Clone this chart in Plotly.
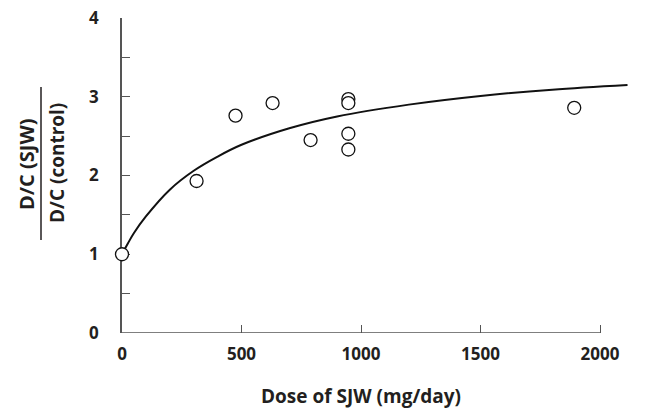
import plotly.graph_objects as go

# Observed data points (dose in mg/day as placed on the chart, D/C ratio)
dose_obs = [0, 312, 475, 630, 789, 947, 947, 947, 947, 1892]
ratio_obs = [1.00, 1.93, 2.76, 2.92, 2.45, 2.97, 2.92, 2.53, 2.33, 2.86]

# Fitted curve
dose_fit = [0, 25, 50, 100, 200, 300, 400, 500, 700, 900, 1200, 1500, 1800, 2115]
ratio_fit = [1.00, 1.14, 1.27, 1.48, 1.82, 2.06, 2.24, 2.39, 2.60, 2.75, 2.90, 3.01, 3.09, 3.15]

x_ticks = [0, 500, 1000, 1500, 2000]
x_ticklabels = ["0", "500", "1000", "1500", "2000"]
y_ticks = [0, 0.5, 1, 1.5, 2, 2.5, 3, 3.5, 4]
y_ticklabels = ["0", "", "1", "", "2", "", "3", "", "4"]

W, H = 650, 411
L, R, T, B = 122, 22, 18, 78
PW, PH = W - L - R, H - T - B

def px_x(p):
    return (p - L) / PW

def px_y(p):
    return (H - B - p) / PH

FONT = "Open Sans"
TXT = "#231f20"
AX = "#555555"

fig = go.Figure()
fig.add_trace(go.Scatter(
    x=dose_fit, y=ratio_fit, mode="lines", line=dict(color="#111111", width=2, shape="spline"),
    hoverinfo="skip", showlegend=False, cliponaxis=False))
fig.add_trace(go.Scatter(
    x=dose_obs, y=ratio_obs, mode="markers",
    marker=dict(symbol="circle", size=13, color="white", line=dict(color="#111111", width=1.3)),
    showlegend=False, cliponaxis=False))

fig.update_layout(
    width=W, height=H, margin=dict(l=L, r=R, t=T, b=B, autoexpand=False),
    plot_bgcolor="white", paper_bgcolor="white",
    xaxis=dict(range=[0, 2117], showgrid=False, zeroline=False, showline=False,
               automargin=False,
               tickmode="array", tickvals=x_ticks, ticktext=x_ticklabels,
               ticks="inside", ticklen=8, tickwidth=1.2, tickcolor=AX,
               ticklabelstandoff=9, ticklabeloverflow="allow",
               tickfont=dict(family=FONT, size=17, color=TXT, weight="bold"),
               layer="below traces"),
    yaxis=dict(range=[0, 4], showgrid=False, zeroline=False, showline=True,
               automargin=False,
               linecolor=AX, linewidth=1.5,
               tickmode="array", tickvals=y_ticks, ticktext=y_ticklabels,
               ticks="inside", ticklen=8, tickwidth=1.2, tickcolor=AX,
               ticklabelstandoff=18, ticklabeloverflow="allow",
               tickfont=dict(family=FONT, size=17, color=TXT, weight="bold"),
               layer="below traces"),
)

# x-axis line only spans 0..2000
fig.add_shape(type="line", xref="x", yref="y", x0=0, x1=2000, y0=0, y1=0,
              line=dict(color=AX, width=1.5), layer="below")

# x title centered on the 0..2000 axis
fig.add_annotation(text="Dose of SJW (mg/day)", xref="x", yref="paper", x=1000, y=px_y(396),
                   showarrow=False, xanchor="center", yanchor="middle",
                   font=dict(family=FONT, size=19, color=TXT, weight="bold"))

# y title as a fraction
fig.add_annotation(text="D/C (SJW)", xref="paper", yref="paper", x=px_x(26), y=px_y(164),
                   textangle=-90, showarrow=False, xanchor="center", yanchor="middle",
                   font=dict(family=FONT, size=20, color=TXT, weight="bold"))
fig.add_annotation(text="D/C (control)", xref="paper", yref="paper", x=px_x(57), y=px_y(163),
                   textangle=-90, showarrow=False, xanchor="center", yanchor="middle",
                   font=dict(family=FONT, size=19, color=TXT, weight="bold"))
fig.add_shape(type="line", xref="paper", yref="paper", x0=px_x(41), x1=px_x(41),
              y0=px_y(87), y1=px_y(240), line=dict(color=TXT, width=1.5))

fig.write_html("out.html", config={"displayModeBar": False},
               post_script="document.body.style.margin='0';")
